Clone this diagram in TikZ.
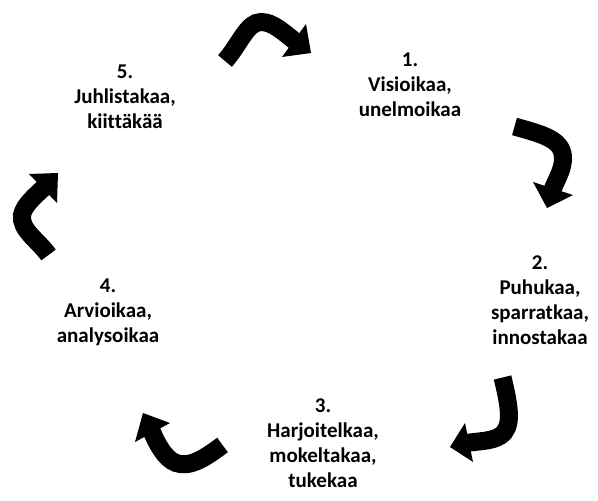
\documentclass[tikz,border=0pt]{standalone}
\usepackage{fontspec}
\setmainfont{Carlito}[Ligatures=NoCommon]
\begin{document}
\begin{tikzpicture}[x=1pt,y=-1pt,
  lbl/.style={align=center,font=\bfseries\fontsize{21}{25}\selectfont,inner sep=0pt},
  shaft/.style={line width=18pt,line cap=butt,draw=black},
  headfill/.style={fill=black}]
\useasboundingbox[fill=white] (0,0) rectangle (598,501);
% labels
\node[lbl] (t1) at (410,85) {1.\\Visioikaa,\\unelmoikaa};
\node[lbl] (t2) at (540,300) {2.\\Puhukaa,\\sparratkaa,\\innostakaa};
\node[lbl] (t3) at (323,443) {3.\\Harjoitelkaa,\\mokeltakaa,\\tukekaa};
\node[lbl] (t4) at (108,312) {4.\\Arvioikaa,\\analysoikaa};
\node[lbl] (t5) at (125,97) {5.\\Juhlistakaa,\\kiittäkää};
% arrow 5 -> 1 (top)
\draw[shaft] (225,61) .. controls (240,44) and (247,22) .. (261,22) .. controls (273,22) and (283,32) .. (296,42);
\fill[headfill] (282,57) -- (306,24) -- (311,53) -- cycle;
% arrow 1 -> 2 (right)
\draw[shaft] (514.5,126.5) .. controls (545,135) and (564,140) .. (563,160) .. controls (562,172) and (556,180) .. (552,191);
\fill[headfill] (533,182) -- (573,195) -- (547,208) -- cycle;
% arrow 2 -> 3 (bottom right)
\draw[shaft] (502.5,377.5) .. controls (510,408) and (513,428) .. (500,436) .. controls (492,441) and (481,441) .. (466,443);
\fill[headfill] (465,423) -- (473,462) -- (450,447) -- cycle;
% arrow 3 -> 4 (bottom left)
\draw[shaft] (222.5,445) .. controls (205,458) and (190,468) .. (176,463) .. controls (165,459) and (157,444) .. (151,429.5);
\fill[headfill] (135,442) -- (170,423) -- (143,413) -- cycle;
% arrow 4 -> 5 (left)
\draw[shaft] (48.5,255) .. controls (38,240) and (20,230) .. (22,215) .. controls (24,205) and (35,196) .. (45,186.5);
\fill[headfill] (29,174) -- (57,203) -- (58,173) -- cycle;
\end{tikzpicture}
\end{document}
